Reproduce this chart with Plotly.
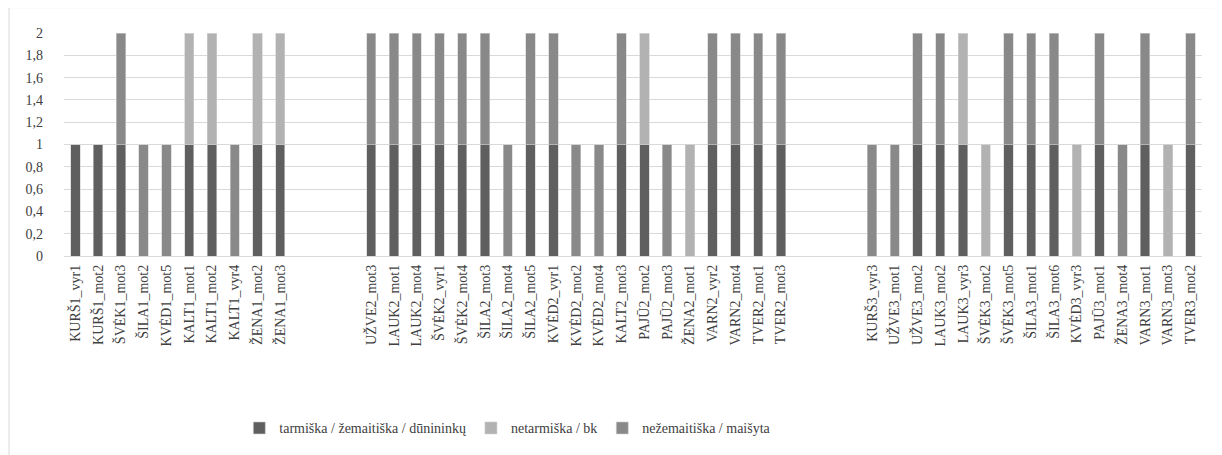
import plotly.graph_objects as go

categories = [
    "KURŠ1_vyr1", "KURŠ1_mot2", "ŠVĖK1_mot3", "ŠILA1_mot2", "KVĖD1_mot5",
    "KALT1_mot1", "KALT1_mot2", "KALT1_vyr4", "ŽENA1_mot2", "ŽENA1_mot3",
    "", "", "",
    "UŽVE2_mot3", "LAUK2_mot1", "LAUK2_mot4", "ŠVĖK2_vyr1", "ŠVĖK2_mot4",
    "ŠILA2_mot3", "ŠILA2_mot4", "ŠILA2_mot5", "KVĖD2_vyr1", "KVĖD2_mot2",
    "KVĖD2_mot4", "KALT2_mot3", "PAJŪ2_mot2", "PAJŪ2_mot3", "ŽENA2_mot1",
    "VARN2_vyr2", "VARN2_mot4", "TVER2_mot1", "TVER2_mot3",
    "", "", "",
    "KURŠ3_vyr3", "UŽVE3_mot1", "UŽVE3_mot2", "LAUK3_mot2", "LAUK3_vyr3",
    "ŠVĖK3_mot2", "ŠVĖK3_mot5", "ŠILA3_mot1", "ŠILA3_mot6", "KVĖD3_vyr3",
    "PAJŪ3_mot1", "ŽENA3_mot4", "VARN3_mot1", "VARN3_mot3", "TVER3_mot2",
]

tarmiska = [
    1, 1, 1, 0, 0, 1, 1, 0, 1, 1,
    0, 0, 0,
    1, 1, 1, 1, 1, 1, 0, 1, 1, 0, 0, 1, 1, 0, 0, 1, 1, 1, 1,
    0, 0, 0,
    0, 0, 1, 1, 1, 0, 1, 1, 1, 0, 1, 0, 1, 0, 1,
]
netarmiska = [
    0, 0, 0, 0, 0, 1, 1, 0, 1, 1,
    0, 0, 0,
    0, 0, 0, 0, 0, 0, 0, 0, 0, 0, 0, 0, 1, 0, 1, 0, 0, 0, 0,
    0, 0, 0,
    0, 0, 0, 0, 1, 1, 0, 0, 0, 1, 0, 0, 0, 1, 0,
]
nezemaitiska = [
    0, 0, 1, 1, 1, 0, 0, 1, 0, 0,
    0, 0, 0,
    1, 1, 1, 1, 1, 1, 1, 1, 1, 1, 1, 1, 0, 1, 0, 1, 1, 1, 1,
    0, 0, 0,
    1, 1, 1, 1, 0, 0, 1, 1, 1, 0, 1, 1, 1, 0, 1,
]

series_names = ["tarmiška / žemaitiška / dūnininkų", "netarmiška / bk", "nežemaitiška / maišyta"]
y_tickvals = [0, 0.2, 0.4, 0.6, 0.8, 1, 1.2, 1.4, 1.6, 1.8, 2]
y_ticktext = ["0", "0,2", "0,4", "0,6", "0,8", "1", "1,2", "1,4", "1,6", "1,8", "2"]

x = list(range(len(categories)))
colors = ["#5f5f5f", "#b2b2b2", "#898989"]
font_family = "Liberation Serif, Times New Roman, DejaVu Serif, serif"
text_color = "#404040"

fig = go.Figure()
for name, vals, col in zip(series_names, [tarmiska, netarmiska, nezemaitiska], colors):
    fig.add_trace(go.Bar(
        x=x, y=vals, name=name,
        marker=dict(color=col, line=dict(color="#d0d0d0", width=0.6)),
    ))

fig.update_layout(
    barmode="stack",
    bargap=0.59,
    width=1214, height=447,
    margin=dict(l=55.5, r=20, t=25, b=198),
    paper_bgcolor="white",
    plot_bgcolor="white",
    font=dict(family=font_family, size=14, color=text_color),
    showlegend=True,
    legend=dict(
        orientation="h", x=0.39, xanchor="center", y=-0.765, yanchor="middle",
        font=dict(family=font_family, size=14, color=text_color),
        traceorder="normal",
    ),
    xaxis=dict(
        tickmode="array", tickvals=x, ticktext=categories,
        tickangle=-90, range=[-0.5, len(categories) - 0.5],
        showgrid=False, showline=False, zeroline=False, ticks="",
        ticklabelstandoff=5,
        tickfont=dict(family=font_family, size=14, color=text_color),
    ),
    yaxis=dict(
        range=[0, 2], tickmode="array", tickvals=y_tickvals, ticktext=y_ticktext,
        showgrid=True, gridcolor="#d9d9d9", gridwidth=1,
        zeroline=True, zerolinecolor="#d9d9d9", zerolinewidth=1,
        showline=False, ticks="", ticklabelstandoff=20,
        tickfont=dict(family=font_family, size=14, color=text_color),
    ),
    shapes=[dict(
        type="rect", xref="paper", yref="paper",
        x0=-0.0483, x1=1.2, y0=-1.5, y1=1.1138,
        line=dict(color="#d9d9d9", width=1), fillcolor="rgba(0,0,0,0)", layer="below",
    )],
)

fig.write_html("out.html")
